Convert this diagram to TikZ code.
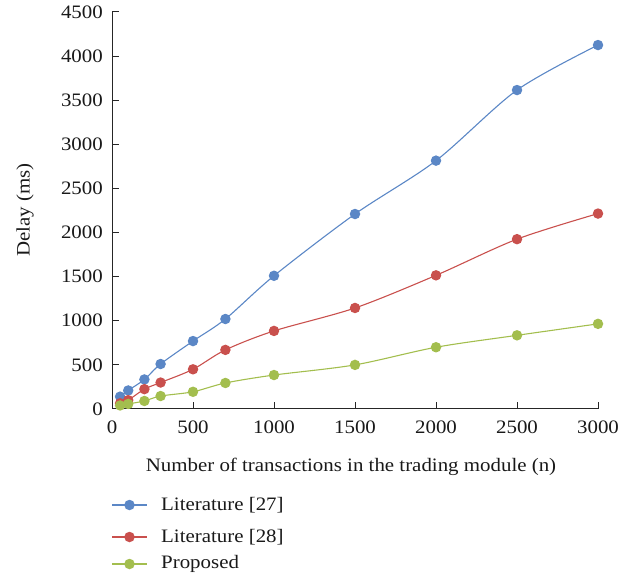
\documentclass[tikz,border=0pt]{standalone}
\usepackage{fontspec}
\setmainfont{Liberation Serif}[FakeStretch=1.1]
\definecolor{cblue}{HTML}{5B87C6}
\definecolor{cred}{HTML}{C9504D}
\definecolor{cgreen}{HTML}{A3BE4E}
\definecolor{axisc}{HTML}{262626}
\begin{document}
\begin{tikzpicture}[x=1pt,y=1pt,
  lbl/.style={font=\fontsize{19}{22}\selectfont, text=black!90, inner sep=0pt},
  mk/.style={circle, fill=#1, inner sep=0pt, minimum size=10.5pt},
  ser/.style={draw=#1, line width=1.1pt},
  axisline/.style={draw=axisc, line width=1pt}]
\useasboundingbox (0,0) rectangle (631,578);
\begin{scope}[shift={(112,169)}, x=0.162pt, y=0.0882222pt]
  % axes
  \coordinate (O) at (0,0);
  \coordinate (Xe) at (3000,0);
  \coordinate (Ye) at (0,4500);
  \draw[axisline] (Ye) -- (O) -- (Xe);
  \foreach \v in {0,500,...,3000} {
    \draw[axisline] (\v,0) -- ++(0,7pt);
    \node[lbl, anchor=center] (xl\v) at ([yshift=-18pt]\v,0) {\v};
  }
  \foreach \v in {0,500,...,4500} {
    \draw[axisline] (0,\v) -- ++(7pt,0);
    \node[lbl, anchor=east] (yl\v) at ([xshift=-9pt]0,\v) {\v};
  }
  % series
  \draw[ser=cblue] plot[smooth, tension=0.5] coordinates {(50,140)(100,210)(200,335)(300,510)(500,770)(700,1020)(1000,1510)(1500,2210)(2000,2815)(2500,3615)(3000,4125)};
  \draw[ser=cred] plot[smooth, tension=0.5] coordinates {(50,65)(100,100)(200,225)(300,300)(500,450)(700,670)(1000,885)(1500,1145)(2000,1515)(2500,1925)(3000,2215)};
  \draw[ser=cgreen] plot[smooth, tension=0.5] coordinates {(50,40)(100,57)(200,91)(300,147)(500,195)(700,295)(1000,385)(1500,500)(2000,700)(2500,835)(3000,965)};
  \foreach \x/\y [count=\i] in {50/140,100/210,200/335,300/510,500/770,700/1020,1000/1510,1500/2210,2000/2815,2500/3615,3000/4125}
    \node[mk=cblue] (b\i) at (\x,\y) {};
  \foreach \x/\y [count=\i] in {50/65,100/100,200/225,300/300,500/450,700/670,1000/885,1500/1145,2000/1515,2500/1925,3000/2215}
    \node[mk=cred] (r\i) at (\x,\y) {};
  \foreach \x/\y [count=\i] in {50/40,100/57,200/91,300/147,500/195,700/295,1000/385,1500/500,2000/700,2500/835,3000/965}
    \node[mk=cgreen] (g\i) at (\x,\y) {};
\end{scope}
% axis titles
\node[lbl, rotate=90] (ytitle) at (25,368) {Delay (ms)};
\node[lbl] (xtitle) at (351,111) {Number of transactions in the trading module (n)};
% legend
\foreach \c/\t/\yy [count=\i] in {cblue/Literature [27]/73, cred/Literature [28]/41, cgreen/Proposed/14} {
  \coordinate (la\i) at (112,\yy);
  \coordinate (lb\i) at (147,\yy);
  \draw[ser=\c] (la\i) -- (lb\i);
  \node[mk=\c] (lm\i) at (129.5,\yy) {};
  \node[lbl, anchor=west] (lt\i) at (161,\yy) {\t};
}
\end{tikzpicture}
\end{document}
